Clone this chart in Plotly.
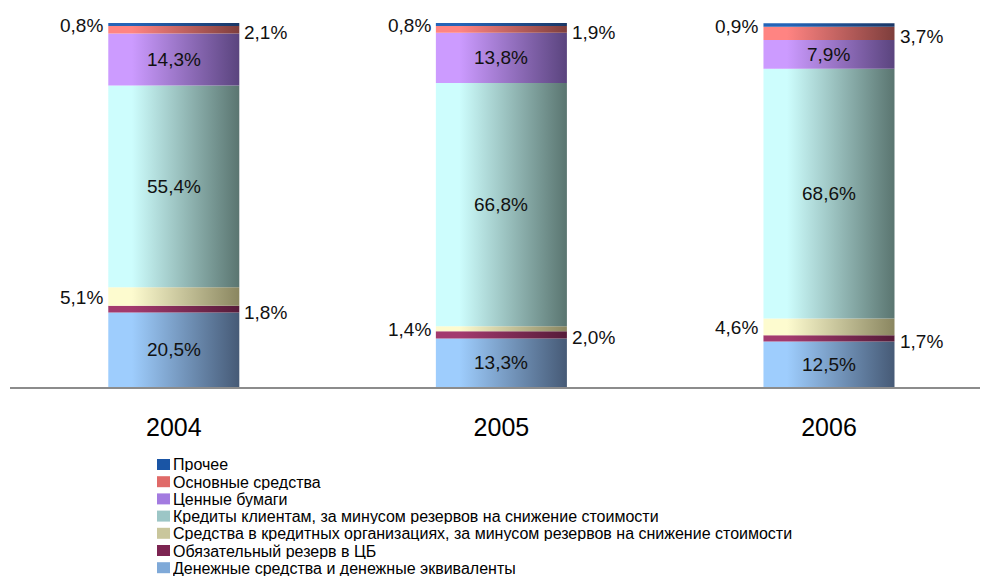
import plotly.graph_objects as go

# Asset structure by year, % of total assets
years = ["2004", "2005", "2006"]

cash = [20.5, 13.3, 12.5]
reserve = [1.8, 2.0, 1.7]
interbank = [5.1, 1.4, 4.6]
loans = [55.4, 66.8, 68.6]
securities = [14.3, 13.8, 7.9]
fixed_assets = [2.1, 1.9, 3.7]
other = [0.8, 0.8, 0.9]

# Stacking order, bottom to top
series_names = [
    "Денежные средства и денежные эквиваленты",
    "Обязательный резерв в ЦБ",
    "Средства в кредитных организациях, за минусом резервов на снижение стоимости",
    "Кредиты клиентам, за минусом резервов на снижение стоимости",
    "Ценные бумаги",
    "Основные средства",
    "Прочее",
]
series_values = [cash, reserve, interbank, loans, securities, fixed_assets, other]

# (light edge, dark edge, legend swatch) per series
palette = [
    ("#9ecdfd", "#465a76", "#7fa9d8"),
    ("#a33a6e", "#561b39", "#7c2451"),
    ("#fdfbcf", "#8a8660", "#c9c69c"),
    ("#cdfdfd", "#5a7570", "#9cc6c6"),
    ("#cc9bff", "#5a447e", "#a37be0"),
    ("#ff8482", "#7e3e3c", "#e06a68"),
    ("#2464b8", "#1a3766", "#1a55a5"),
]
# where each series puts its value label
label_side = ["inside", "right", "left", "inside", "inside", "right", "left"]

FONT = "Liberation Sans, Arial, sans-serif"
HALF = 0.2  # half bar width in category units
LABEL_SIZE = 19

fig = go.Figure()
annotations = []

x_pos = list(range(len(years)))
for i, xc in enumerate(x_pos):
    base = 0.0
    for name, vals, (light, dark, _), side in zip(series_names, series_values, palette, label_side):
        v = vals[i]
        top = base + v
        fig.add_trace(go.Scatter(
            x=[xc - HALF, xc + HALF, xc + HALF, xc - HALF, xc - HALF],
            y=[base, base, top, top, base],
            mode="lines",
            fill="toself",
            line=dict(width=0, color=dark),
            fillgradient=dict(
                type="horizontal",
                colorscale=[[0, light], [0.18, light], [1, dark]],
            ),
            hoverinfo="skip",
            showlegend=False,
            name=name,
        ))
        mid = (base + top) / 2
        text = f"{v:.1f}%".replace(".", ",")
        lab_font = dict(family=FONT, size=LABEL_SIZE, color="#111111")
        if side == "inside":
            annotations.append(dict(x=xc, y=mid, text=text, showarrow=False,
                                    xanchor="center", yanchor="middle", font=lab_font))
        elif side == "left":
            annotations.append(dict(x=xc - HALF, y=mid, text=text, showarrow=False,
                                    xanchor="right", yanchor="middle", xshift=-3, yshift=-1,
                                    font=lab_font))
        else:
            annotations.append(dict(x=xc + HALF, y=mid, text=text, showarrow=False,
                                    xanchor="left", yanchor="middle", xshift=3, yshift=-3,
                                    font=lab_font))
        base = top

# Hand-built legend below the plot, top series first
W, H = 984, 578
ML, MR, MT, MB = 10, 4, 23, 191
pw, ph = W - ML - MR, H - MT - MB


def px_x(px):
    return (px - ML) / pw


def px_y(py):
    return (H - MB - py) / ph


shapes = []
legend_top = 464.5
step = 17.2
for k, (name, (_, _, sw)) in enumerate(reversed(list(zip(series_names, palette)))):
    cy = legend_top + k * step
    shapes.append(dict(type="rect", xref="paper", yref="paper",
                       x0=px_x(157), x1=px_x(170), y0=px_y(cy - 5.5), y1=px_y(cy + 5.5),
                       fillcolor=sw, line=dict(width=0)))
    annotations.append(dict(xref="paper", yref="paper", x=px_x(172), y=px_y(cy),
                            text=name, showarrow=False, xanchor="left", yanchor="middle",
                            height=16, valign="middle", borderpad=0,
                            font=dict(family=FONT, size=16, color="#000000")))

fig.update_layout(
    width=W, height=H,
    margin=dict(l=ML, r=MR, t=MT, b=MB, pad=0),
    paper_bgcolor="white", plot_bgcolor="white",
    showlegend=False,
    annotations=annotations,
    shapes=shapes,
    xaxis=dict(
        range=[-0.5, 2.461],
        tickvals=x_pos, ticktext=years,
        showgrid=False, zeroline=False,
        showline=True, linecolor="#8c8c8c", linewidth=1.5,
        ticks="", ticklabelstandoff=17,
        tickfont=dict(family=FONT, size=25, color="#000000"),
        fixedrange=True,
    ),
    yaxis=dict(
        range=[0, 100], visible=False, showgrid=False, zeroline=False, fixedrange=True,
    ),
)

fig.write_html("out.html")
